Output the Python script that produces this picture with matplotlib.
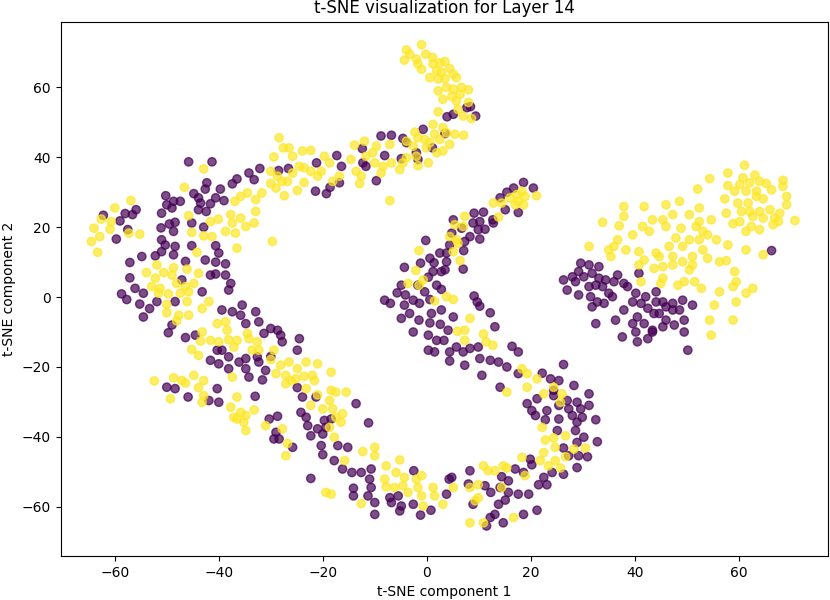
import matplotlib
matplotlib.use("Agg")
import matplotlib.pyplot as plt
import numpy as np

# class 0 (purple) points
purple_pts = [
(-45.8,38.7),(-41.3,38.7),(-34.2,35.5),(-36.5,33.8),(-33.2,33.6),(-42.3,32.7),(-37.4,32.4),(-44.8,29.6),(-42.6,30.9),(-39.7,30.9),
(-50.2,29.0),(-47.4,27.4),(-48.7,27.4),(-50.0,26.4),(-43.9,28.4),(-43.5,26.9),(-40.6,28.4),(-39.0,27.6),(-41.6,26.7),(-43.9,25.0),
(-42.4,24.5),(-51.0,24.0),(-49.0,25.5),(-55.9,25.0),(-58.0,23.9),(-56.6,23.6),(-59.0,21.8),(-62.2,23.4),(-57.5,19.3),(-59.7,16.6),
(-51.1,19.8),(-48.4,21.4),(-49.5,20.9),(-45.2,21.2),(-42.9,20.0),(-48.7,18.8),(-51.0,16.4),(-50.3,14.9),(-48.4,14.5),(-48.7,12.1),
(-45.2,14.7),(-40.6,14.7),(-40.0,12.6),(-42.6,10.6),(-40.6,10.0),(-38.7,9.5),(-46.4,10.2),(-51.0,13.0),(-57.1,9.9),(-54.8,11.6),
(-52.2,11.8),(-57.1,5.5),(-56.1,2.5),(-54.5,1.1),(-58.7,0.9),(-57.7,-0.7),(-55.2,-2.0),(-53.3,-3.3),(-51.9,-1.3),(-48.4,-1.3),
(-47.1,4.9),(-43.2,1.5),(-41.6,6.3),(-40.6,6.6),(-38.7,6.3),(-37.7,3.9),(-38.1,2.0),(-39.4,-3.7),(-37.4,-4.2),(-35.5,-2.3),
(-35.8,-5.2),(-32.9,-4.2),(-54.5,-5.7),
(-34.8,-7.6),(-32.3,-7.1),(-31.3,-10.4),(-30.0,-9.0),(-28.7,-9.5),(-28.1,-10.9),(-27.8,-12.8),(-24.5,-11.9),(-24.9,-15.2),(-49.0,-8.0),
(-49.7,-10.2),(-46.4,-11.6),(-44.5,-10.9),(-40.3,-15.2),(-39.4,-15.2),(-41.6,-18.1),(-40.0,-19.1),(-38.1,-17.1),(-36.1,-18.6),(-34.8,-20.5),
(-32.3,-18.6),(-34.8,-17.6),(-32.6,-17.1),(-30.0,-17.0),(-31.0,-21.0),(-34.2,-22.9),(-31.6,-23.7),(-38.1,-20.5),(-50.0,-25.8),(-48.4,-26.2),
(-45.9,-28.6),(-40.3,-26.2),(-41.9,-29.6),(-40.0,-30.1),(-33.0,-28.4),(-24.9,-25.9),(-23.9,-28.6),(-21.3,-28.6),(-24.2,-33.0),(-23.2,-34.4),
(-22.9,-36.8),(-22.3,-39.7),(-21.0,-37.7),(-19.7,-35.3),(-19.4,-37.3),(-18.4,-34.9),(-20.0,-39.2),(-20.3,-42.5),(-20.0,-45.1),(-17.1,-42.5),
(-17.8,-46.8),(-16.2,-49.2),(-15.2,-43.0),(-30.3,-34.9),(-28.7,-34.1),(-29.0,-38.7),(-29.4,-40.6),(-28.4,-40.6),(-25.8,-43.0),(-22.3,-51.9),
(-0.7,48.0),(-4.6,45.4),(-3.9,44.2),(-6.8,46.3),(-8.8,46.1),(-12.4,42.5),(-8.1,40.5),(-12.3,38.4),(-11.7,37.4),(-4.9,39.6),
(-2.0,41.3),(-1.7,39.4),(1.1,42.7),(3.5,46.8),(3.9,51.6),(5.1,52.3),(7.7,54.2),(8.4,54.5),(9.4,51.8),(-17.3,40.5),
(-21.2,38.4),(-16.4,37.4),(-16.8,32.7),(-21.4,30.3),(-19.3,29.6),(-18.6,31.4),(-26.6,36.8),(-28.5,36.2),(-32.1,36.8),
(-9.7,33.3),(18.6,32.8),(16.7,31.2),(20.5,31.2),(15.4,30.0),(14.1,28.4),(15.1,25.0),(17.6,24.2),(10.9,24.3),(9.1,24.0),
(12.7,22.1),(12.8,21.2),(10.2,21.6),(8.9,21.2),(9.9,19.3),(11.2,19.4),(8.3,17.3),(10.2,16.6),(5.1,22.1),(6.7,19.7),
(4.8,18.3),(7.3,15.9),(-0.2,16.2),(4.4,14.9),(2.5,12.6),(3.8,12.6),(7.1,13.3),(7.0,8.0),(0.6,11.1),(-1.2,9.7),
(-4.3,8.5),(1.2,7.3),(2.8,7.3),(0.3,5.7),(-4.9,3.4),(-5.7,1.2),(-4.1,0.6),(-1.7,3.4),(-0.4,1.5),(1.9,3.4),
(2.8,2.2),(-8.1,-0.9),(-7.0,-1.8),(-4.3,-2.3),(-2.6,-0.9),(-1.4,-1.8),(0.6,-0.7),(-3.3,-4.7),(-4.9,-6.1),(-1.5,-6.6),
(0.9,-4.7),(2.8,-3.7),(5.1,-5.7),(0.6,-7.4),(2.6,-7.8),(4.1,-9.5),(-2.6,-10.0),(0.3,-10.9),(1.9,-12.4),(3.3,-12.4),
(0.3,-15.2),(1.5,-15.7),(4.4,-15.7),(5.7,-14.3),(7.0,-15.7),(8.3,-14.7),(9.9,-14.3),(4.4,-18.3),(7.3,-19.5),(9.1,0.3),
(9.7,-1.4),(10.2,-2.6),(12.2,-4.5),(13.1,-8.5),(16.4,-14.1),(17.6,-15.7),(10.2,-17.6),(12.2,-18.1),(13.8,-18.6),(15.4,-20.0),
(1.4,9.8),(3.8,10.1),(3.5,7.8),
(29.6,9.7),(31.2,9.2),(33.1,8.7),(29.2,7.3),(28.0,5.8),(26.3,4.9),(27.0,2.0),(28.6,4.4),(30.2,5.8),(31.8,6.8),
(33.1,5.4),(34.4,4.9),(36.7,6.3),(36.0,4.4),(37.9,3.9),(31.2,3.0),(32.5,3.4),(33.8,3.0),(35.0,1.1),(35.7,0.1),
(34.1,-1.8),(29.2,0.6),(31.5,0.1),(32.8,-1.4),(31.8,-2.8),(38.6,3.0),(40.8,6.8),(40.2,1.1),(42.1,0.1),(44.1,1.5),
(41.2,-1.8),(39.6,-1.4),(37.9,-3.7),(42.5,-3.2),(43.7,-4.7),(44.1,-1.4),(45.4,-1.4),(47.3,-1.8),(46.0,-2.8),(44.7,-4.7),
(46.0,-6.6),(47.3,-3.7),(49.2,-0.9),(51.1,-2.3),(48.6,-3.7),(49.5,-6.6),(47.6,-8.0),(49.5,-10.0),(45.4,-8.5),(43.4,-9.5),
(41.8,-7.6),(39.6,-7.6),(40.5,-5.7),(36.3,-6.6),(37.6,-11.4),(40.2,-10.0),(40.5,-12.8),(42.5,-11.9),(43.4,-10.0),(32.5,-7.6),
(50.2,-15.2),(66.3,13.3),
(26.3,-19.3),(28.3,-25.3),(31.2,-27.7),(28.9,-30.1),(27.0,-29.6),(25.4,-31.0),(27.3,-32.0),(29.6,-32.0),(31.2,-31.0),(28.0,-33.9),
(29.9,-34.4),(32.5,-35.1),(28.9,-35.8),(25.4,-34.9),(28.6,-38.2),(30.2,-40.1),(32.8,-41.4),(28.9,-41.6),(26.3,-43.2),(27.3,-45.4),
(29.2,-45.4),(30.9,-45.7),(28.9,-48.8),(26.3,-50.7),(22.2,-21.8),(23.8,-23.4),(25.4,-23.9),(24.4,-26.7),(24.4,-28.2),(21.2,-29.1),
(19.3,-30.5),(20.2,-32.5),(20.9,-33.9),(22.8,-35.1),(23.1,-32.5),(25.1,-38.2),(19.9,-46.4),(20.2,-48.0),(22.5,-51.6),(24.1,-50.2),
(21.5,-53.7),(23.1,-53.7),(17.0,-49.2),(18.6,-50.2),(14.4,-51.4),(15.7,-52.6),(14.1,-54.5),(15.7,-55.9),(17.6,-56.4),(19.6,-56.4),
(21.2,-61.0),(18.6,-62.2),(15.1,-58.1),(13.8,-59.3),(13.1,-62.2),(12.2,-63.1),(14.7,-64.6),(8.3,-49.7),(4.8,-51.6),(8.0,-53.5),
(11.2,-54.0),(12.3,-55.9),(8.9,-59.3),(11.5,-65.5),(10.6,-22.4),(14.1,-25.8),(17.6,-21.9),
(-13.6,-30.5),(-11.2,-36.0),(-10.7,-49.2),(-12.6,-50.2),(-14.4,-50.2),(-11.0,-52.1),(-10.7,-54.5),(-14.1,-54.7),(-14.1,-56.9),(-11.3,-56.9),
(-10.0,-58.8),(-10.0,-62.2),(-7.1,-57.4),(-6.8,-58.8),(-5.5,-56.9),(-4.9,-59.8),(-5.2,-61.2),(-2.5,-49.7),(-2.6,-59.3),(-1.2,-62.4),
(0.8,-61.0),(3.8,-56.4),(4.3,-52.1),
]

# class 1 (yellow) points
yellow_pts = [
(-42.9,36.7),(-46.6,31.4),(-36.9,27.4),(-35.8,28.8),(-34.5,29.8),(-32.9,27.9),(-60.0,25.5),(-56.9,27.6),(-62.6,22.3),(-64.0,19.7),
(-60.7,21.6),(-60.9,19.4),(-62.9,17.3),(-64.5,15.9),(-63.3,12.8),(-57.3,18.3),(-55.2,18.0),(-45.8,23.3),(-45.2,18.5),(-42.9,17.5),
(-41.3,17.3),(-41.6,21.6),(-40.1,22.3),(-37.7,23.6),(-37.4,21.2),(-35.8,22.6),(-34.8,20.2),(-33.2,21.2),(-32.9,24.5),(-38.7,18.8),
(-36.8,18.3),(-36.5,14.0),(-44.2,12.8),(-51.9,9.2),(-48.7,8.4),(-46.1,8.0),(-53.9,7.0),(-52.2,5.4),(-50.6,7.0),(-52.9,3.0),
(-51.3,2.5),(-49.0,6.3),(-48.1,3.9),(-46.4,3.0),(-44.8,3.9),(-43.9,6.8),(-51.6,1.1),(-49.7,0.9),(-47.4,1.1),(-45.8,1.5),
(-41.9,-1.3),(-43.2,-3.3),(-50.0,-2.1),(-50.0,-4.5),(-46.1,-1.3),(-47.7,-5.2),(-45.8,-5.2),
(-48.1,-6.8),(-43.2,-10.0),(-40.3,-7.6),(-38.7,-7.1),(-38.4,-9.5),(-41.6,-12.4),(-43.5,-12.6),(-40.0,-12.8),(-38.1,-12.2),(-36.5,-12.4),
(-34.5,-10.4),(-34.2,-11.9),(-32.6,-12.8),(-32.3,-15.2),(-33.6,-15.2),(-45.2,-15.0),(-43.9,-16.7),(-37.1,-14.3),(-29.4,-15.2),(-30.0,-17.9),
(-28.1,-19.5),(-26.5,-18.6),(-24.9,-20.5),(-23.2,-18.6),(-21.0,-19.1),(-18.4,-21.5),(-29.0,-21.9),(-27.1,-22.4),(-26.1,-23.9),(-27.1,-24.8),
(-25.2,-23.4),(-23.6,-22.7),(-22.0,-22.4),(-21.6,-23.9),(-37.4,-22.9),(-52.4,-24.0),(-48.7,-23.1),(-47.1,-23.9),(-46.4,-24.6),(-44.8,-22.4),
(-42.9,-23.9),(-43.9,-25.9),(-42.9,-28.2),(-43.2,-30.1),(-49.3,-29.1),(-36.5,-28.6),(-37.7,-31.5),(-37.1,-34.4),(-35.8,-33.0),(-34.8,-33.9),
(-36.5,-34.9),(-35.2,-35.8),(-34.8,-38.2),(-33.2,-32.3),(-31.0,-36.8),(-27.8,-37.7),(-26.8,-41.9),(-27.1,-45.4),(-23.2,-26.2),(-21.0,-28.0),
(-18.4,-26.7),(-17.5,-27.2),(-18.7,-29.6),(-15.5,-27.2),(-20.0,-32.0),(-18.1,-32.0),(-22.3,-31.0),(-17.5,-34.4),(-16.2,-33.4),(-16.5,-35.8),
(-18.7,-37.3),(-17.8,-40.1),(-15.8,-46.8),
(-1.0,72.2),(-3.9,70.7),(-3.3,69.5),(-4.3,67.8),(-2.0,68.1),(-1.7,66.7),(-0.2,69.5),(1.1,68.6),(-1.0,65.2),(1.2,66.7),
(2.5,67.0),(3.5,67.4),(1.9,64.7),(2.8,64.3),(4.4,65.4),(0.6,62.8),(2.2,62.4),(3.5,62.5),(5.1,63.8),(5.7,62.8),
(2.2,59.0),(3.8,60.0),(5.1,59.5),(6.7,60.0),(8.0,59.3),(3.1,56.6),(4.8,57.4),(6.4,58.0),(5.7,56.1),(8.0,55.7),
(2.2,53.0),(6.0,53.7),(7.0,51.8),(8.6,51.1),(1.2,49.4),(3.1,48.5),(1.5,46.6),(-0.4,45.1),(0.6,44.2),(2.5,45.1),
(4.4,43.7),(5.4,46.6),(7.1,46.3),(3.8,47.0),(1.9,41.3),(3.1,41.8),(-2.3,47.2),(-1.7,45.6),(-0.1,42.7),(-3.9,44.6),
(-2.6,43.2),(-3.9,39.9),(-2.0,40.3),(-4.6,38.4),(-1.7,37.6),(0.3,38.4),(-7.1,43.7),(-9.7,43.2),(-10.4,41.3),(-12.0,44.6),
(-13.9,43.5),(-11.7,40.3),(-10.0,38.4),(-8.4,37.4),(-6.8,38.4),(-12.6,34.6),(-12.9,32.5),(-14.6,39.4),(-13.6,36.0),(-19.7,40.3),
(-18.7,38.4),(-20.3,36.0),(-16.8,34.6),(-22.3,36.0),(-23.6,37.0),(-21.0,34.6),(-24.5,37.4),(-25.8,40.3),(-26.5,42.7),(-27.6,42.7),
(-28.4,45.6),(-29.4,40.1),(-23.9,41.8),(-22.3,42.0),(-25.8,35.5),(-26.8,33.1),(-24.9,30.5),(-27.8,33.1),(-29.0,31.2),(-30.0,36.0),
(-28.7,34.6),(-30.0,32.5),(-27.4,29.0),(-31.7,29.8),(-23.6,32.8),(-18.1,33.1),
(-8.8,35.5),(-5.2,36.5),(-7.1,27.6),(12.8,26.9),(14.4,26.9),(16.0,28.4),(17.3,29.3),(17.6,27.4),(18.9,28.8),(18.6,26.4),
(17.0,26.4),(13.8,22.9),(21.1,29.0),(18.3,30.3),(7.3,23.1),(5.4,20.7),(7.0,20.2),(4.4,17.3),(5.7,16.4),(6.0,15.4),
(5.1,13.0),(-1.5,13.3),(6.4,10.4),(-2.1,7.6),(-3.6,3.9),(-0.7,4.9),(-1.5,3.4),(3.8,0.1),(5.1,-0.7),(1.5,-1.1),
(8.3,-6.1),(5.9,-9.8),(7.3,-9.5),(10.9,-10.6),(7.3,-12.4),(11.4,-12.8),(12.7,-13.8),(18.3,-20.5),
(61.1,37.7),(57.9,35.5),(54.4,33.9),(63.1,34.9),(60.8,34.1),(60.2,32.2),(62.1,32.7),(64.0,33.1),(65.3,32.5),(68.5,33.4),
(57.9,31.9),(59.2,30.3),(61.4,30.3),(63.4,30.3),(66.3,30.7),(68.5,31.7),(63.4,28.8),(64.7,28.1),(59.8,26.9),(61.8,26.9),
(57.3,28.1),(60.5,24.5),(62.1,24.5),(64.0,24.5),(66.0,25.0),(67.9,24.0),(69.2,28.8),(69.2,26.4),(70.8,21.9),(66.9,22.6),
(64.7,22.6),(62.7,23.1),(57.6,24.0),(58.9,21.0),(60.2,21.6),(62.4,20.2),(64.0,19.3),(66.6,20.7),(67.6,21.6),(61.4,18.8),
(52.1,30.9),(48.6,27.4),(46.0,26.4),(41.8,25.9),(37.9,25.9),(37.9,23.1),(33.8,21.4),(37.0,20.4),(52.4,25.5),(50.5,23.6),
(52.4,21.6),(54.7,22.1),(51.8,20.2),(53.1,18.8),(48.9,19.7),(47.3,23.6),(45.4,22.1),(43.4,22.1),(41.5,20.2),(39.6,17.8),
(36.7,16.4),(42.8,18.8),(46.0,20.2),(47.9,16.9),(50.5,16.4),(52.4,16.4),(54.0,17.8),(55.7,16.4),(57.9,14.9),(61.4,13.5),
(64.7,12.1),(31.2,14.5),(36.0,14.5),(35.4,11.6),(38.3,13.5),(40.8,13.0),(41.8,10.6),(44.1,12.6),(44.7,11.6),(46.6,14.5),
(49.2,14.5),(47.3,11.6),(49.2,10.1),(51.1,11.6),(53.1,13.5),(54.0,11.1),(56.3,10.1),(57.6,10.4),(43.7,8.2),(45.4,8.7),
(47.3,9.2),(51.1,9.2),(50.5,7.8),(40.8,9.2),(41.2,4.4),(45.4,5.4),(45.0,3.9),(48.3,3.4),(49.5,4.4),(51.5,4.4),
(52.8,2.5),(56.3,1.5),(59.2,7.3),(59.5,4.4),(58.9,3.0),(61.4,1.1),(62.7,2.5),(59.5,-1.4),(55.3,-2.3),(54.4,-6.6),
(58.9,-6.6),(54.7,-10.9),(35.0,13.5),
(19.3,-21.9),(21.2,-23.4),(19.3,-25.8),(22.5,-27.7),(24.4,-25.8),(26.0,-27.7),(25.7,-30.1),(22.2,-37.3),(22.8,-40.9),(24.4,-40.3),
(26.7,-39.7),(24.7,-43.0),(22.5,-44.5),(28.3,-43.5),(30.5,-43.2),(26.7,-45.7),(24.7,-46.8),(23.4,-48.3),(21.8,-46.8),(25.7,-48.9),
(18.3,-45.9),(10.9,-48.3),(11.8,-49.7),(13.1,-49.7),(14.7,-48.3),(15.4,-48.9),(18.9,-51.1),(14.4,-54.5),(9.9,-53.7),(8.3,-54.5),
(9.9,-57.4),(9.3,-58.3),(5.1,-54.5),(16.7,-63.1),(8.3,-64.6),(10.9,-64.6),(15.4,-27.2),
(-10.0,-43.0),(-10.0,-45.4),(-12.3,-44.2),(-7.8,-48.3),(-5.2,-46.6),(-5.9,-50.2),(-8.1,-52.1),(-7.8,-54.3),(-6.2,-54.5),(-4.3,-51.6),
(-4.6,-54.0),(-3.6,-55.9),(-2.0,-52.1),(-1.0,-51.1),(-1.7,-54.5),(-1.0,-56.9),(-0.7,-59.8),(1.2,-54.5),(1.5,-56.9),(3.1,-59.3),
(-12.6,-59.1),(-19.4,-55.9),(-18.4,-56.4),(-29.7,15.9),
]

title = "t-SNE visualization for Layer 14"
xlabel = "t-SNE component 1"
ylabel = "t-SNE component 2"

px = np.array(purple_pts)
yp = np.array(yellow_pts)
xs = np.concatenate([px[:, 0], yp[:, 0]])
ys = np.concatenate([px[:, 1], yp[:, 1]])
labels = np.concatenate([np.zeros(len(px)), np.ones(len(yp))])

fig = plt.figure(figsize=(8.3, 6), dpi=100)
ax = fig.add_axes([60.7/830, 44/600, 767/830, 534.3/600])
ax.scatter(xs, ys, c=labels, cmap="viridis", alpha=0.7, s=36)
ax.set_xlim(-70.4, 77.1)
ax.set_ylim(-74.1, 78.8)
ax.set_xticks([-60, -40, -20, 0, 20, 40, 60])
ax.set_yticks([-60, -40, -20, 0, 20, 40, 60])
ax.set_title(title)
ax.set_xlabel(xlabel)
ax.set_ylabel(ylabel)
fig.savefig("out.png", dpi=100)
